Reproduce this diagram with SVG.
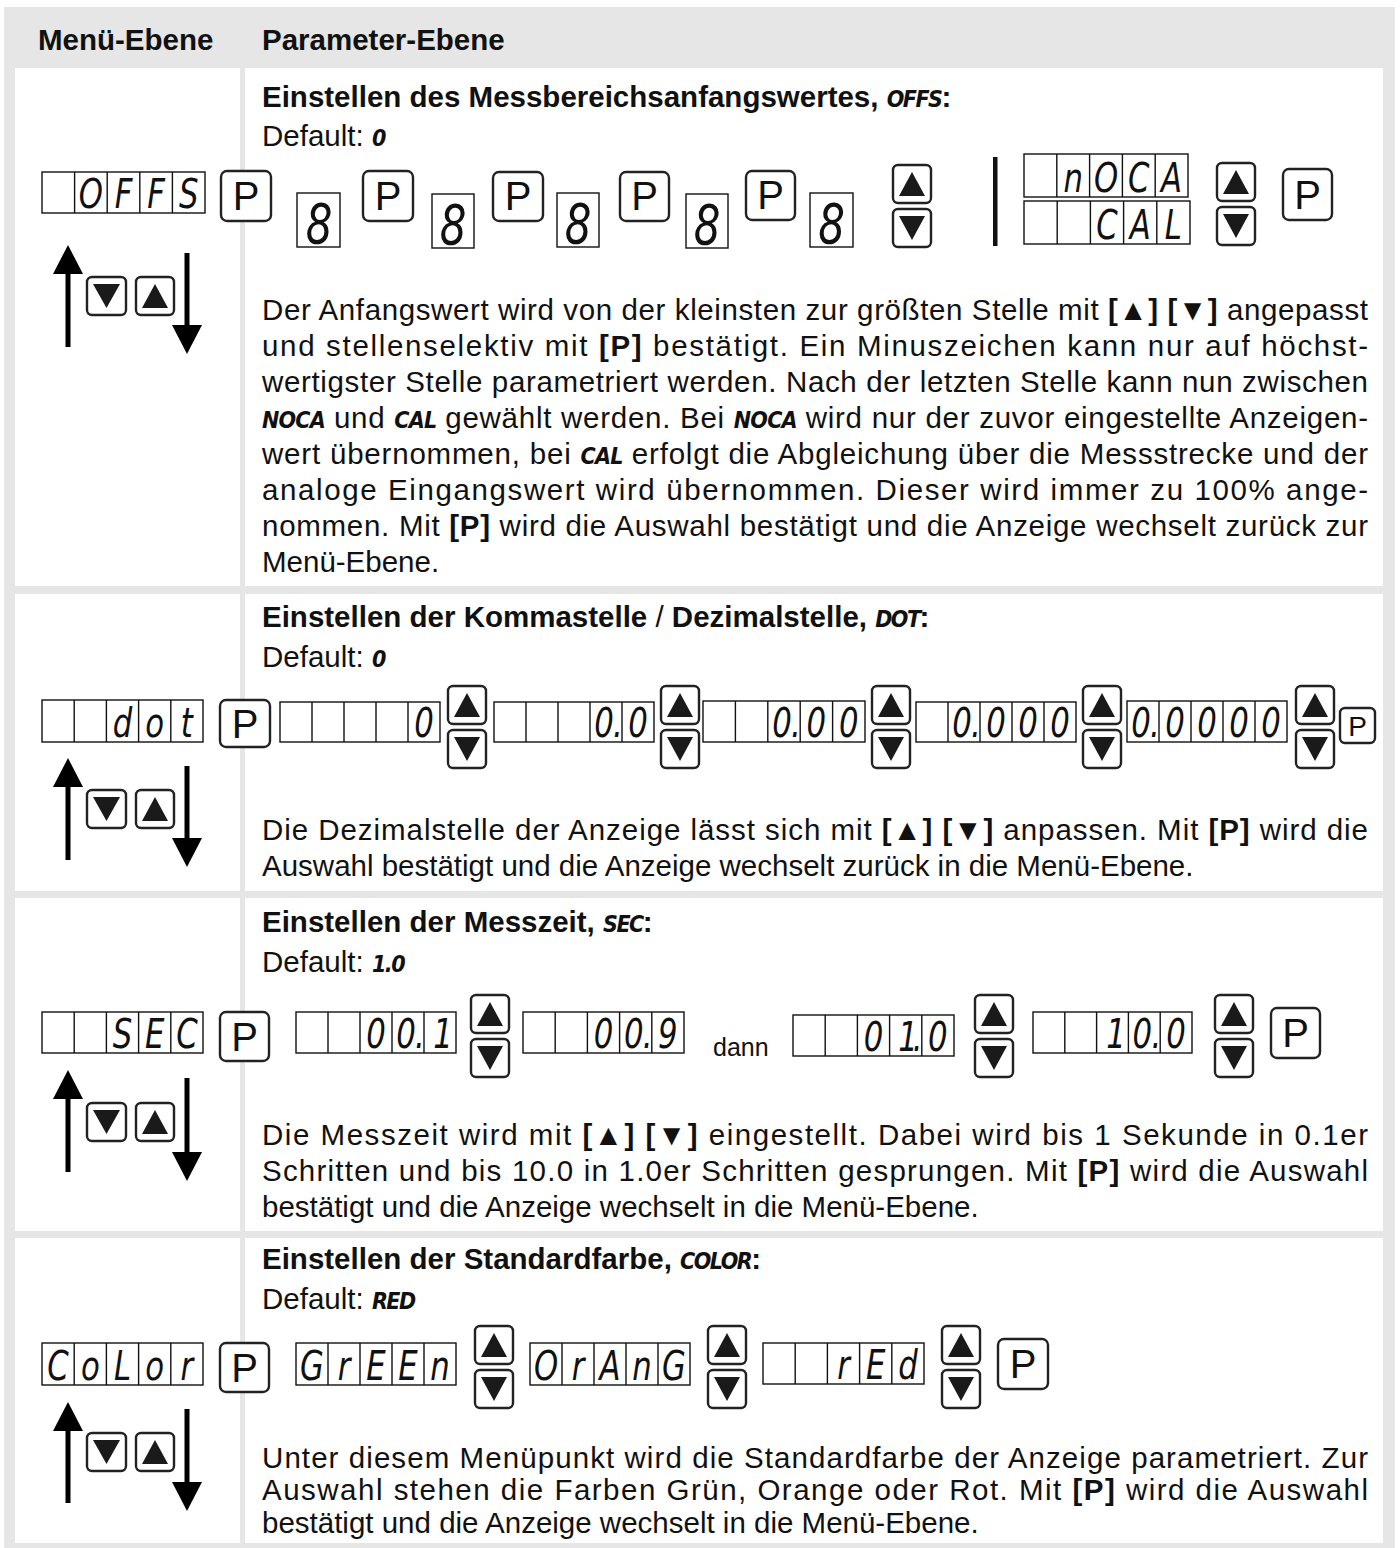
<svg xmlns="http://www.w3.org/2000/svg" width="1400" height="1548" viewBox="0 0 1400 1548">
<defs>
<style>
.bg{fill:#e6e6e6}
.cl{fill:#fff}
.t{font-family:'Liberation Sans',Arial,sans-serif;font-size:29.5px;fill:#111}
.b{font-weight:bold}
.n{font-weight:normal}
.dv{font-family:'DejaVu Sans Condensed','Liberation Sans',sans-serif;font-style:italic;font-weight:bold;font-size:23px;letter-spacing:-1.5px}
.dn{font-family:'Liberation Sans',Arial,sans-serif;font-size:25px;fill:#111}
.d{fill:none;stroke:#111;stroke-width:1.4}
.sg{font-family:'DejaVu Sans',sans-serif;font-style:italic;font-weight:200;font-size:41px;fill:#111;text-anchor:middle}
.sg8{font-family:'DejaVu Sans',sans-serif;font-style:italic;font-weight:200;font-size:56px;fill:#111;text-anchor:middle}
.k{fill:#fff;stroke:#222;stroke-width:2.4}
.tr{fill:#1a1a1a}
.pk{font-family:'Liberation Sans',Arial,sans-serif;font-size:40px;fill:#111;text-anchor:middle}
.pks{font-family:'Liberation Sans',Arial,sans-serif;font-size:28px;fill:#111;text-anchor:middle}
.ar{stroke:#000;stroke-width:5;fill:none}
.bar{fill:#111}
</style>
<marker id="ah" markerUnits="userSpaceOnUse" markerWidth="30" markerHeight="30" refX="0" refY="15" orient="auto"><path d="M0,0 L29,15 L0,30 Z" fill="#000"/></marker>
</defs>
<rect x="0" y="0" width="1400" height="1548" fill="#fff"/>
<rect class="bg" x="4" y="7" width="1391" height="1541"/>
<g id="cells">
<rect class="cl" x="15" y="68" width="225" height="518"/>
<rect class="cl" x="245" y="68" width="1138" height="518"/>
<rect class="cl" x="15" y="594" width="225" height="297"/>
<rect class="cl" x="245" y="594" width="1138" height="297"/>
<rect class="cl" x="15" y="898" width="225" height="333"/>
<rect class="cl" x="245" y="898" width="1138" height="333"/>
<rect class="cl" x="15" y="1238" width="225" height="305"/>
<rect class="cl" x="245" y="1238" width="1138" height="305"/>
</g>
<g id="header">
<text class="t b" x="38" y="50">Menü-Ebene</text>
<text class="t b" x="262" y="50">Parameter-Ebene</text>
</g>

<!-- ROW 1 -->
<g id="row1-text">
<text class="t b" x="262" y="107">Einstellen des Messbereichsanfangswertes, <tspan class="dv">OFFS</tspan>:</text>
<text class="t" x="262" y="146">Default: <tspan class="dv">0</tspan></text>
<text class="t" x="262" y="320" textLength="1106" lengthAdjust="spacing">Der Anfangswert wird von der kleinsten zur größten Stelle mit <tspan class="b">[▲] [▼]</tspan> angepasst</text>
<text class="t" x="262" y="356" textLength="1106" lengthAdjust="spacing">und stellenselektiv mit <tspan class="b">[P]</tspan> bestätigt. Ein Minuszeichen kann nur auf höchst-</text>
<text class="t" x="262" y="392" textLength="1106" lengthAdjust="spacing">wertigster Stelle parametriert werden. Nach der letzten Stelle kann nun zwischen</text>
<text class="t" x="262" y="428" textLength="1106" lengthAdjust="spacing"><tspan class="dv">NOCA</tspan> und <tspan class="dv">CAL</tspan> gewählt werden. Bei <tspan class="dv">NOCA</tspan> wird nur der zuvor eingestellte Anzeigen-</text>
<text class="t" x="262" y="464" textLength="1106" lengthAdjust="spacing">wert übernommen, bei <tspan class="dv">CAL</tspan> erfolgt die Abgleichung über die Messstrecke und der</text>
<text class="t" x="262" y="500" textLength="1106" lengthAdjust="spacing">analoge Eingangswert wird übernommen. Dieser wird immer zu 100% ange-</text>
<text class="t" x="262" y="536" textLength="1106" lengthAdjust="spacing">nommen. Mit <tspan class="b">[P]</tspan> wird die Auswahl bestätigt und die Anzeige wechselt zurück zur</text>
<text class="t" x="262" y="572">Menü-Ebene.</text>
</g>
<g id="r1-menu-offs">
<rect class="d" x="42" y="172" width="163" height="41"/>
<path class="d" d="M74.6,172v41M107.2,172v41M139.8,172v41M172.4,172v41"/>
<text class="sg" transform="scale(0.75,1)" x="121.2 164.67 208.13 251.6" y="208">OFFS</text>
</g>
<g id="r1-p1"><rect class="k" x="221" y="171" width="50" height="50" rx="6"/><text class="pk" x="246" y="210">P</text></g>
<g id="r1-d1"><rect class="d" x="297" y="193" width="43" height="54"/><text class="sg8" transform="scale(0.75,1)" x="425.33" y="243">8</text></g>
<g id="r1-p2"><rect class="k" x="363" y="171" width="50" height="50" rx="6"/><text class="pk" x="388" y="210">P</text></g>
<g id="r1-d2"><rect class="d" x="432" y="194" width="42" height="54"/><text class="sg8" transform="scale(0.75,1)" x="604" y="244">8</text></g>
<g id="r1-p3"><rect class="k" x="493" y="172" width="50" height="49" rx="6"/><text class="pk" x="518" y="210">P</text></g>
<g id="r1-d3"><rect class="d" x="557" y="193" width="42" height="54"/><text class="sg8" transform="scale(0.75,1)" x="770.67" y="243">8</text></g>
<g id="r1-p4"><rect class="k" x="620" y="172" width="49" height="49" rx="6"/><text class="pk" x="644.5" y="210">P</text></g>
<g id="r1-d4"><rect class="d" x="686" y="194" width="42" height="54"/><text class="sg8" transform="scale(0.75,1)" x="942.67" y="244">8</text></g>
<g id="r1-p5"><rect class="k" x="746" y="171" width="49" height="49" rx="6"/><text class="pk" x="770.5" y="209">P</text></g>
<g id="r1-d5"><rect class="d" x="810" y="193" width="43" height="54"/><text class="sg8" transform="scale(0.75,1)" x="1108.67" y="243">8</text></g>
<g id="r1-ud1">
<rect class="k" x="893" y="165" width="38" height="38" rx="5"/><path class="tr" d="M899,196H925L912,172Z"/>
<rect class="k" x="893" y="209" width="38" height="38" rx="5"/><path class="tr" d="M899,216H925L912,240Z"/>
</g>
<g id="r1-sep"><rect class="bar" x="993" y="157" width="4.5" height="89"/></g>
<g id="r1-noca">
<rect class="d" x="1024" y="154" width="164" height="43"/>
<path class="d" d="M1056.8,154v43M1089.6,154v43M1122.4,154v43M1155.2,154v43"/>
<text class="sg" transform="scale(0.75,1)" x="1430.93 1474.67 1518.4 1562.13" y="192">nOCA</text>
</g>
<g id="r1-cal">
<rect class="d" x="1024" y="201" width="166" height="43"/>
<path class="d" d="M1057.2,201v43M1090.4,201v43M1123.6,201v43M1156.8,201v43"/>
<text class="sg" transform="scale(0.75,1)" x="1476 1520.27 1564.53" y="239">CAL</text>
</g>
<g id="r1-ud2">
<rect class="k" x="1217" y="163" width="38" height="38" rx="5"/><path class="tr" d="M1223,194H1249L1236,170Z"/>
<rect class="k" x="1217" y="207" width="38" height="38" rx="5"/><path class="tr" d="M1223,214H1249L1236,238Z"/>
</g>
<g id="r1-p6"><rect class="k" x="1283" y="169" width="49" height="51" rx="6"/><text class="pk" x="1307.5" y="208.5">P</text></g>
<g id="r1-nav">
<rect class="k" x="87" y="277" width="39" height="38" rx="5"/><path class="tr" d="M93,284H120L106.5,308Z"/>
<rect class="k" x="136" y="277" width="38" height="38" rx="5"/><path class="tr" d="M142,308H168L155,284Z"/>
</g>

<!-- ROW 2 -->
<g id="row2-text">
<text class="t b" x="262" y="627">Einstellen der Kommastelle <tspan class="n">/</tspan> Dezimalstelle, <tspan class="dv">DOT</tspan>:</text>
<text class="t" x="262" y="667">Default: <tspan class="dv">0</tspan></text>
<text class="t" x="262" y="840" textLength="1106" lengthAdjust="spacing">Die Dezimalstelle der Anzeige lässt sich mit <tspan class="b">[▲] [▼]</tspan> anpassen. Mit <tspan class="b">[P]</tspan> wird die</text>
<text class="t" x="262" y="876">Auswahl bestätigt und die Anzeige wechselt zurück in die Menü-Ebene.</text>
</g>
<g id="r2-menu-dot">
<rect class="d" x="42" y="700" width="161" height="42"/>
<path class="d" d="M74.2,700v42M106.4,700v42M138.6,700v42M170.8,700v42"/>
<text class="sg" transform="scale(0.75,1)" x="163.33 206.27 249.2" y="737">dot</text>
</g>
<g id="r2-p1"><rect class="k" x="220" y="700" width="50" height="47" rx="6"/><text class="pk" x="245" y="737.5">P</text></g>
<g id="r2-v0">
<rect class="d" x="280" y="702" width="160" height="40"/>
<path class="d" d="M312,702v40M344,702v40M376,702v40M408,702v40"/>
<text class="sg" transform="scale(0.75,1)" x="565.33" y="737">0</text>
</g>
<g id="r2-ud1">
<rect class="k" x="448" y="686" width="38" height="38" rx="5"/><path class="tr" d="M454,717H480L467,693Z"/>
<rect class="k" x="448" y="730" width="38" height="38" rx="5"/><path class="tr" d="M454,737H480L467,761Z"/>
</g>
<g id="r2-v1">
<rect class="d" x="494" y="702" width="160" height="40"/>
<path class="d" d="M526,702v40M558,702v40M590,702v40M622,702v40"/>
<text class="sg" transform="scale(0.75,1)" x="805.33 824 850.67" y="737">0.0</text>
</g>
<g id="r2-ud2">
<rect class="k" x="661" y="686" width="38" height="38" rx="5"/><path class="tr" d="M667,717H693L680,693Z"/>
<rect class="k" x="661" y="730" width="38" height="38" rx="5"/><path class="tr" d="M667,737H693L680,761Z"/>
</g>
<g id="r2-v2">
<rect class="d" x="703" y="701" width="162" height="41"/>
<path class="d" d="M735.4,701v41M767.8,701v41M800.2,701v41M832.6,701v41"/>
<text class="sg" transform="scale(0.75,1)" x="1042.67 1061.33 1088.53 1131.73" y="737">0.00</text>
</g>
<g id="r2-ud3">
<rect class="k" x="872" y="686" width="38" height="38" rx="5"/><path class="tr" d="M878,717H904L891,693Z"/>
<rect class="k" x="872" y="730" width="38" height="38" rx="5"/><path class="tr" d="M878,737H904L891,761Z"/>
</g>
<g id="r2-v3">
<rect class="d" x="916" y="702" width="160" height="40"/>
<path class="d" d="M948,702v40M980,702v40M1012,702v40M1044,702v40"/>
<text class="sg" transform="scale(0.75,1)" x="1282.67 1301.33 1328 1370.67 1413.33" y="737">0.000</text>
</g>
<g id="r2-ud4">
<rect class="k" x="1083" y="686" width="38" height="38" rx="5"/><path class="tr" d="M1089,717H1115L1102,693Z"/>
<rect class="k" x="1083" y="730" width="38" height="38" rx="5"/><path class="tr" d="M1089,737H1115L1102,761Z"/>
</g>
<g id="r2-v4">
<rect class="d" x="1127" y="701" width="160" height="41"/>
<path class="d" d="M1159,701v41M1191,701v41M1223,701v41M1255,701v41"/>
<text class="sg" transform="scale(0.75,1)" x="1521.33 1540 1566.67 1609.33 1652 1694.67" y="737">0.0000</text>
</g>
<g id="r2-ud5">
<rect class="k" x="1296" y="686" width="38" height="38" rx="5"/><path class="tr" d="M1302,717H1328L1315,693Z"/>
<rect class="k" x="1296" y="730" width="38" height="38" rx="5"/><path class="tr" d="M1302,737H1328L1315,761Z"/>
</g>
<g id="r2-p2"><rect class="k" x="1340" y="708" width="35" height="35" rx="5"/><text class="pks" x="1357.5" y="735.5">P</text></g>
<g id="r2-nav">
<rect class="k" x="87" y="790" width="39" height="38" rx="5"/><path class="tr" d="M93,797H120L106.5,821Z"/>
<rect class="k" x="136" y="790" width="38" height="38" rx="5"/><path class="tr" d="M142,821H168L155,797Z"/>
</g>

<!-- ROW 3 -->
<g id="row3-text">
<text class="t b" x="262" y="932">Einstellen der Messzeit, <tspan class="dv">SEC</tspan>:</text>
<text class="t" x="262" y="972">Default: <tspan class="dv">1.0</tspan></text>
<text class="dn" x="713" y="1056">dann</text>
<text class="t" x="262" y="1145" textLength="1106" lengthAdjust="spacing">Die Messzeit wird mit <tspan class="b">[▲] [▼]</tspan> eingestellt. Dabei wird bis 1 Sekunde in 0.1er</text>
<text class="t" x="262" y="1181" textLength="1106" lengthAdjust="spacing">Schritten und bis 10.0 in 1.0er Schritten gesprungen. Mit <tspan class="b">[P]</tspan> wird die Auswahl</text>
<text class="t" x="262" y="1217">bestätigt und die Anzeige wechselt in die Menü-Ebene.</text>
</g>
<g id="r3-menu-sec">
<rect class="d" x="42" y="1012" width="161" height="41"/>
<path class="d" d="M74.2,1012v41M106.4,1012v41M138.6,1012v41M170.8,1012v41"/>
<text class="sg" transform="scale(0.75,1)" x="163.33 206.27 249.2" y="1048">SEC</text>
</g>
<g id="r3-p1"><rect class="k" x="220" y="1012" width="49" height="49" rx="6"/><text class="pk" x="244.5" y="1050.5">P</text></g>
<g id="r3-v1">
<rect class="d" x="296" y="1012" width="160" height="41"/>
<path class="d" d="M328,1012v41M360,1012v41M392,1012v41M424,1012v41"/>
<text class="sg" transform="scale(0.75,1)" x="501.33 541.33 560 590.67" y="1048">00.1</text>
</g>
<g id="r3-ud1">
<rect class="k" x="471" y="995" width="38" height="38" rx="5"/><path class="tr" d="M477,1026H503L490,1002Z"/>
<rect class="k" x="471" y="1039" width="38" height="38" rx="5"/><path class="tr" d="M477,1046H503L490,1070Z"/>
</g>
<g id="r3-v2">
<rect class="d" x="523" y="1012" width="161" height="41"/>
<path class="d" d="M555.2,1012v41M587.4,1012v41M619.6,1012v41M651.8,1012v41"/>
<text class="sg" transform="scale(0.75,1)" x="804.67 844.93 863.6 890.53" y="1048">00.9</text>
</g>
<g id="r3-v3">
<rect class="d" x="793" y="1015" width="161" height="41"/>
<path class="d" d="M825.2,1015v41M857.4,1015v41M889.6,1015v41M921.8,1015v41"/>
<text class="sg" transform="scale(0.75,1)" x="1164.67 1210.67 1223.6 1250.53" y="1051">01.0</text>
</g>
<g id="r3-ud2">
<rect class="k" x="975" y="995" width="38" height="38" rx="5"/><path class="tr" d="M981,1026H1007L994,1002Z"/>
<rect class="k" x="975" y="1039" width="38" height="38" rx="5"/><path class="tr" d="M981,1046H1007L994,1070Z"/>
</g>
<g id="r3-v4">
<rect class="d" x="1033" y="1012" width="159" height="41"/>
<path class="d" d="M1064.8,1012v41M1096.6,1012v41M1128.4,1012v41M1160.2,1012v41"/>
<text class="sg" transform="scale(0.75,1)" x="1488 1523.07 1541.73 1568.13" y="1048">10.0</text>
</g>
<g id="r3-ud3">
<rect class="k" x="1215" y="995" width="38" height="38" rx="5"/><path class="tr" d="M1221,1026H1247L1234,1002Z"/>
<rect class="k" x="1215" y="1039" width="38" height="38" rx="5"/><path class="tr" d="M1221,1046H1247L1234,1070Z"/>
</g>
<g id="r3-p2"><rect class="k" x="1271" y="1008" width="49" height="50" rx="6"/><text class="pk" x="1295.5" y="1047">P</text></g>
<g id="r3-nav">
<rect class="k" x="87" y="1103" width="39" height="38" rx="5"/><path class="tr" d="M93,1110H120L106.5,1134Z"/>
<rect class="k" x="136" y="1103" width="38" height="38" rx="5"/><path class="tr" d="M142,1134H168L155,1110Z"/>
</g>

<!-- ROW 4 -->
<g id="row4-text">
<text class="t b" x="262" y="1269">Einstellen der Standardfarbe, <tspan class="dv">COLOR</tspan>:</text>
<text class="t" x="262" y="1309">Default: <tspan class="dv">RED</tspan></text>
<text class="t" x="262" y="1468" textLength="1106" lengthAdjust="spacing">Unter diesem Menüpunkt wird die Standardfarbe der Anzeige parametriert. Zur</text>
<text class="t" x="262" y="1500" textLength="1106" lengthAdjust="spacing">Auswahl stehen die Farben Grün, Orange oder Rot. Mit <tspan class="b">[P]</tspan> wird die Auswahl</text>
<text class="t" x="262" y="1533">bestätigt und die Anzeige wechselt in die Menü-Ebene.</text>
</g>
<g id="r4-menu-color">
<rect class="d" x="42" y="1343" width="161" height="42"/>
<path class="d" d="M74.2,1343v42M106.4,1343v42M138.6,1343v42M170.8,1343v42"/>
<text class="sg" transform="scale(0.75,1)" x="77.47 120.4 163.33 206.27 249.2" y="1380">CoLor</text>
</g>
<g id="r4-p1"><rect class="k" x="220" y="1343" width="49" height="49" rx="6"/><text class="pk" x="244.5" y="1381.5">P</text></g>
<g id="r4-green">
<rect class="d" x="296" y="1343" width="160" height="42"/>
<path class="d" d="M328,1343v42M360,1343v42M392,1343v42M424,1343v42"/>
<text class="sg" transform="scale(0.75,1)" x="416 458.67 501.33 544 586.67" y="1380">GrEEn</text>
</g>
<g id="r4-ud1">
<rect class="k" x="475" y="1326" width="38" height="38" rx="5"/><path class="tr" d="M481,1357H507L494,1333Z"/>
<rect class="k" x="475" y="1370" width="38" height="38" rx="5"/><path class="tr" d="M481,1377H507L494,1401Z"/>
</g>
<g id="r4-orange">
<rect class="d" x="530" y="1343" width="160" height="42"/>
<path class="d" d="M562,1343v42M594,1343v42M626,1343v42M658,1343v42"/>
<text class="sg" transform="scale(0.75,1)" x="728 770.67 813.33 856 898.67" y="1380">OrAnG</text>
</g>
<g id="r4-ud2">
<rect class="k" x="708" y="1326" width="38" height="38" rx="5"/><path class="tr" d="M714,1357H740L727,1333Z"/>
<rect class="k" x="708" y="1370" width="38" height="38" rx="5"/><path class="tr" d="M714,1377H740L727,1401Z"/>
</g>
<g id="r4-red">
<rect class="d" x="763" y="1343" width="161" height="41"/>
<path class="d" d="M795.2,1343v41M827.4,1343v41M859.6,1343v41M891.8,1343v41"/>
<text class="sg" transform="scale(0.75,1)" x="1124.67 1167.6 1210.53" y="1379">rEd</text>
</g>
<g id="r4-ud3">
<rect class="k" x="942" y="1326" width="38" height="38" rx="5"/><path class="tr" d="M948,1357H974L961,1333Z"/>
<rect class="k" x="942" y="1370" width="38" height="38" rx="5"/><path class="tr" d="M948,1377H974L961,1401Z"/>
</g>
<g id="r4-p2"><rect class="k" x="998" y="1339" width="50" height="50" rx="6"/><text class="pk" x="1023" y="1378">P</text></g>
<g id="r4-nav">
<rect class="k" x="87" y="1433" width="39" height="38" rx="5"/><path class="tr" d="M93,1440H120L106.5,1464Z"/>
<rect class="k" x="136" y="1433" width="38" height="38" rx="5"/><path class="tr" d="M142,1464H168L155,1440Z"/>
</g>

<g id="connectors">
<line class="ar" x1="68" y1="347" x2="68" y2="274" marker-end="url(#ah)"/>
<line class="ar" x1="187" y1="253" x2="187" y2="325" marker-end="url(#ah)"/>
<line class="ar" x1="68" y1="860" x2="68" y2="787" marker-end="url(#ah)"/>
<line class="ar" x1="187" y1="766" x2="187" y2="838" marker-end="url(#ah)"/>
<line class="ar" x1="68" y1="1172" x2="68" y2="1099" marker-end="url(#ah)"/>
<line class="ar" x1="187" y1="1078" x2="187" y2="1152" marker-end="url(#ah)"/>
<line class="ar" x1="68" y1="1503" x2="68" y2="1431" marker-end="url(#ah)"/>
<line class="ar" x1="187" y1="1409" x2="187" y2="1482" marker-end="url(#ah)"/>
</g>
</svg>
